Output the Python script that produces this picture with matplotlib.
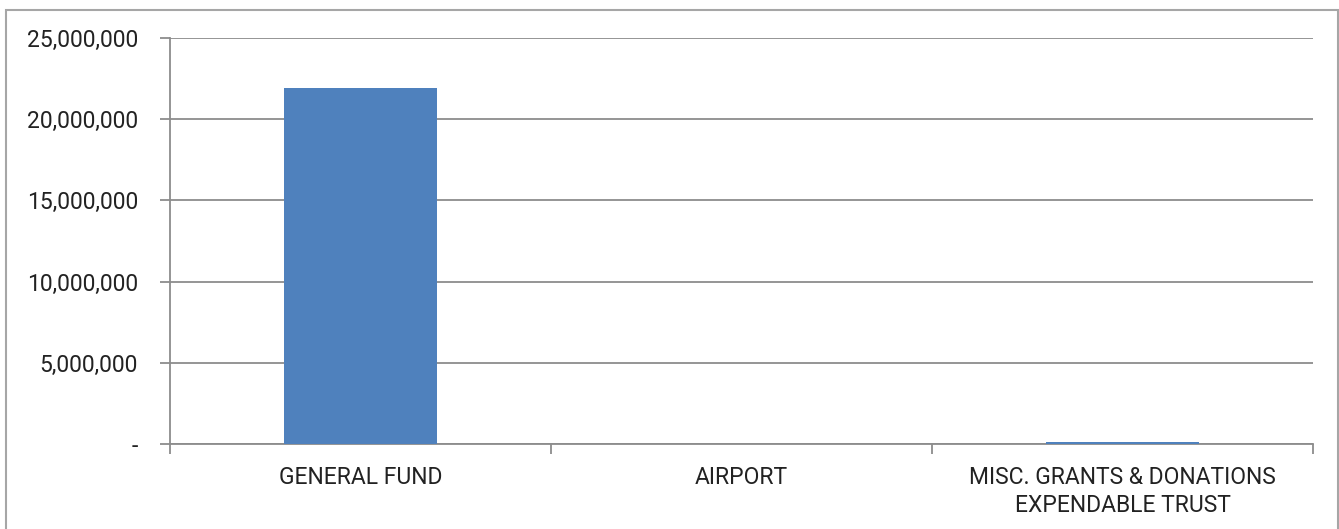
import matplotlib
matplotlib.use("Agg")
import matplotlib.pyplot as plt
from matplotlib.patches import Rectangle
from matplotlib.ticker import FuncFormatter, FixedLocator

plt.rcParams['font.family'] = ['Roboto', 'DejaVu Sans']

# Data
categories = ["GENERAL FUND", "AIRPORT", "MISC. GRANTS & DONATIONS\nEXPENDABLE TRUST"]
values = [21920000, 0, 150000]
yticks = [0, 5000000, 10000000, 15000000, 20000000, 25000000]

W, H = 1339, 529
fig = plt.figure(figsize=(W / 100, H / 100), dpi=100)
ax = fig.add_axes([170 / W, 1 - 444 / H, (1313 - 170) / W, (444 - 38) / H])

grey = "#8c8c8c"
x = list(range(len(categories)))
ax.bar(x, values, width=0.4, color="#4f81bd", zorder=3)

ax.set_xlim(-0.5, len(categories) - 0.5)
ax.set_ylim(0, 25000000)
ax.set_yticks(yticks)
ax.yaxis.set_major_formatter(FuncFormatter(lambda v, p: "-" if v == 0 else f"{int(v):,}"))
ax.yaxis.grid(True, color=grey, linewidth=1.3, zorder=0)

# category labels at centres, tick marks at boundaries
ax.set_xticks(x)
ax.set_xticklabels(categories, fontsize=16.5, color="#222222", linespacing=1.27)
ax.tick_params(axis="x", which="major", length=0, pad=16)
ax.xaxis.set_minor_locator(FixedLocator([-0.5, 0.5, 1.5, 2.5]))
ax.tick_params(axis="x", which="minor", length=7, color=grey, width=1.3, direction="out")
ax.tick_params(axis="y", length=7, color=grey, width=1.3, labelsize=16.5,
               labelcolor="#222222", pad=16)

for s in ["top", "right"]:
    ax.spines[s].set_visible(False)
for s in ["left", "bottom"]:
    ax.spines[s].set_color(grey)
    ax.spines[s].set_linewidth(1.3)

# outer chart border
fig.patches.append(Rectangle((6 / W, -0.05), (1338 - 6) / W, 1 - 10 / H + 0.05,
                             transform=fig.transFigure, fill=False,
                             edgecolor="#a6a6a6", linewidth=1.5))

fig.savefig("out.png", dpi=100)
